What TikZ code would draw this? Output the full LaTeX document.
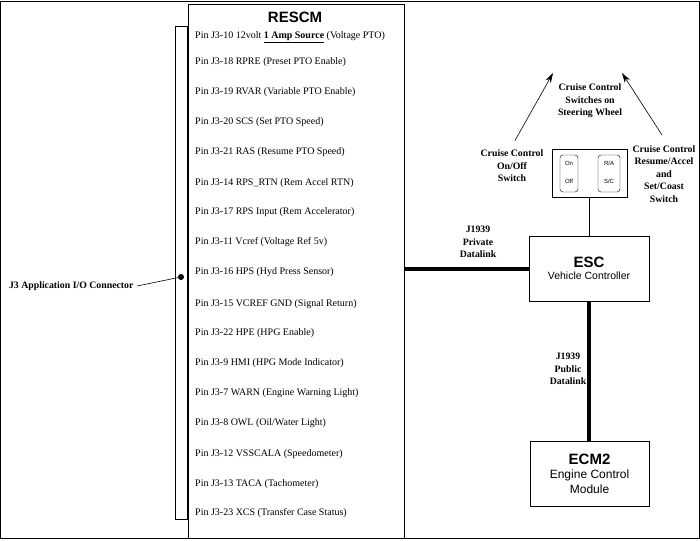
\documentclass[tikz,border=0pt]{standalone}
\usepackage{fontspec}
\setmainfont{Liberation Serif}
\newfontfamily\arialfont{Liberation Sans}
\usetikzlibrary{arrows.meta,positioning}
\tikzset{
    box/.style={draw, line width=0.9pt, inner sep=0pt},
    pin/.style={anchor=west, inner sep=2pt, font=\fontsize{10}{11}\selectfont},
    note/.style={align=center, font=\fontsize{9.8}{12.5}\selectfont\bfseries},
    title/.style={font=\arialfont\fontsize{15}{17}\selectfont\bfseries},
    link/.style={draw, line width=4pt},
    wire/.style={draw, line width=0.8pt},
    pointer/.style={draw, line width=0.6pt, -{Stealth[length=10pt, width=6pt]}}
}
\begin{document}
\begin{tikzpicture}[x=1pt, y=-1pt]
    \useasboundingbox (0,0) rectangle (700,540);
    \draw[line width=0.8pt] (0.5,1) rectangle (699,538.5);

    % Nodes
    \node[box, minimum width=216pt, minimum height=534pt, anchor=north west] (rescm) at (188,4) {};
    \node[title] (rescmT) at (295,17) {RESCM};
    \node[box, minimum width=12pt, minimum height=493pt, anchor=north east] (conn) at (188,26) {};
    \node[circle, fill, inner sep=0pt, minimum size=6pt] (dot) at (181,277) {};
    \node[note, anchor=east] (connL) at (137,286) {J3 Application I/O Connector};

    \node[pin] (p1)  at (193,37)  {Pin J3-10 12volt \textbf{\underline{1 Amp Source}} (Voltage PTO)};
    \node[pin] (p2)  at (193,62)  {Pin J3-18 RPRE (Preset PTO Enable)};
    \node[pin] (p3)  at (193,92)  {Pin J3-19 RVAR (Variable PTO Enable)};
    \node[pin] (p4)  at (193,122) {Pin J3-20 SCS (Set PTO Speed)};
    \node[pin] (p5)  at (193,152) {Pin J3-21 RAS (Resume PTO Speed)};
    \node[pin] (p6)  at (193,183) {Pin J3-14 RPS\_RTN (Rem Accel RTN)};
    \node[pin] (p7)  at (193,212) {Pin J3-17 RPS Input (Rem Accelerator)};
    \node[pin] (p8)  at (193,242) {Pin J3-11 Vcref (Voltage Ref 5v)};
    \node[pin] (p9)  at (193,272) {Pin J3-16 HPS (Hyd Press Sensor)};
    \node[pin] (p10) at (193,304) {Pin J3-15 VCREF GND (Signal Return)};
    \node[pin] (p11) at (193,333) {Pin J3-22 HPE (HPG Enable)};
    \node[pin] (p12) at (193,363) {Pin J3-9 HMI (HPG Mode Indicator)};
    \node[pin] (p13) at (193,393) {Pin J3-7 WARN (Engine Warning Light)};
    \node[pin] (p14) at (193,423) {Pin J3-8 OWL (Oil/Water Light)};
    \node[pin] (p15) at (193,454) {Pin J3-12 VSSCALA (Speedometer)};
    \node[pin] (p16) at (193,484) {Pin J3-13 TACA (Tachometer)};
    \node[pin] (p17) at (193,513) {Pin J3-23 XCS (Transfer Case Status)};

    \node[box, minimum width=120pt, minimum height=65pt, align=center,
          font=\arialfont\fontsize{10.5}{11}\selectfont] (esc) at (589,268.5)
        {{\fontsize{15}{18}\selectfont\bfseries ESC}\\[1pt]Vehicle Controller};
    \node[box, minimum width=119pt, minimum height=65pt, align=center,
          font=\arialfont\fontsize{12}{14.5}\selectfont] (ecm) at (589.5,473.5)
        {{\fontsize{15}{17}\selectfont\bfseries ECM2}\\Engine Control\\Module};

    \node[box, minimum width=75pt, minimum height=48pt] (sw) at (589.5,173) {};
    \node[draw, rounded corners=3pt, minimum width=18pt, minimum height=37pt, inner sep=0pt] (onoff) at (569,173.5) {};
    \node[draw, rounded corners=3pt, minimum width=22pt, minimum height=37pt, inner sep=0pt] (resacc) at (609,173.5) {};
    \node[font=\arialfont\fontsize{6}{7}\selectfont] (on)  at (569,163) {On};
    \node[font=\arialfont\fontsize{6}{7}\selectfont] (off) at (569,181) {Off};
    \node[font=\arialfont\fontsize{6}{7}\selectfont] (ra)  at (609,163) {R/A};
    \node[font=\arialfont\fontsize{6}{7}\selectfont] (sc)  at (609,181) {S/C};

    \node[note] (wheelL)  at (590,101) {Cruise Control\\Switches on\\Steering Wheel};
    \node[note] (onoffL)  at (512,166) {Cruise Control\\On/Off\\Switch};
    \node[note] (resumeL) at (664,174) {Cruise Control\\Resume/Accel\\and\\Set/Coast\\Switch};
    \node[note] (privL)   at (478,242) {J1939\\Private\\Datalink};
    \node[note] (pubL)    at (568,369) {J1939\\Public\\Datalink};

    \coordinate (tipL) at (553,73);
    \coordinate (tipR) at (622,73);

    % edges
    \draw[line width=0.6pt] (connL.east) -- (dot);
    \draw[link] (rescm.east |- esc.west) -- (esc.west);
    \draw[link] (esc.south) -- (ecm.north -| esc.south);
    \draw[wire] (sw.south -| esc.north) -- (esc.north);
    \draw[pointer] (onoffL.north) ++(3,-6) -- (tipL);
    \draw[pointer] (resumeL.north) ++(-2,-7) -- (tipR);
\end{tikzpicture}
\end{document}
